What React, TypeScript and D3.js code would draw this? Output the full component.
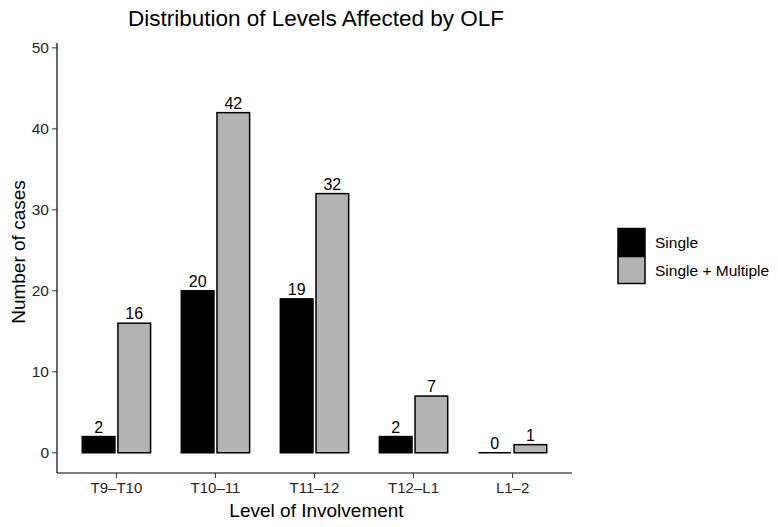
import React from 'react';
import * as d3 from 'd3';

const levels = ['T9–T10', 'T10–11', 'T11–12', 'T12–L1', 'L1–2'];
const seriesNames = ['Single', 'Single + Multiple'];
const singleCounts = [2, 20, 19, 2, 0];
const multipleCounts = [16, 42, 32, 7, 1];
const yTicks = [0, 10, 20, 30, 40, 50];
const fills = ['#000000', '#b3b3b3'];

const W = 778, H = 527;
const font = 'Liberation Sans, Arial, sans-serif';

export default function App() {
  // panel box
  const left = 57, right = 572, top = 43, bottom = 473;

  // ggplot-like discrete expansion: 0.6 units each side
  const x = d3.scalePoint<string>().domain(levels).range([left, right]).padding(0.6);
  const step = x.step();
  const groupW = step * 0.72;
  const xSeries = d3.scaleBand<string>().domain(seriesNames).range([-groupW / 2, groupW / 2]);
  const y = d3.scaleLinear().domain([-2.5, 50.6]).range([bottom, top]);

  const series = [singleCounts, multipleCounts];

  return (
    <svg width={W} height={H} style={{ position: 'absolute', left: 0, top: 0, background: '#fff' }} fontFamily={font}>
      <text x={316} y={26} textAnchor="middle" fontSize={22.5} fill="#000">Distribution of Levels Affected by OLF</text>

      {/* bars */}
      {levels.map((lv, i) => (
        <g key={lv}>
          {series.map((vals, s) => {
            const bx = (x(lv) as number) + (xSeries(seriesNames[s]) as number) + 1.5;
            const bw = xSeries.bandwidth() - 3;
            const v = vals[i];
            return (
              <g key={s}>
                {v === 0 ? (
                  <line x1={bx} x2={bx + bw} y1={y(0)} y2={y(0)} stroke="#000" strokeWidth={1.5} />
                ) : (
                  <rect x={bx} y={y(v)} width={bw} height={y(0) - y(v)} fill={fills[s]} stroke="#000" strokeWidth={1.5} />
                )}
                <text x={bx + bw / 2} y={y(v) - 4} textAnchor="middle" fontSize={16} fill="#000">{v}</text>
              </g>
            );
          })}
        </g>
      ))}

      {/* y axis */}
      <line x1={left} x2={left} y1={top} y2={bottom} stroke="#000" strokeWidth={1.2} />
      {yTicks.map(t => (
        <g key={t}>
          <line x1={left - 5} x2={left} y1={y(t)} y2={y(t)} stroke="#333" strokeWidth={1} />
          <text x={left - 8} y={y(t)} dy="0.36em" textAnchor="end" fontSize={15.5} fill="#262626">{t}</text>
        </g>
      ))}
      <text transform={`translate(25,252) rotate(-90)`} textAnchor="middle" fontSize={19} fill="#000">Number of cases</text>

      {/* x axis */}
      <line x1={left} x2={right} y1={bottom} y2={bottom} stroke="#000" strokeWidth={1.2} />
      {levels.map(lv => (
        <g key={lv}>
          <line x1={x(lv)} x2={x(lv)} y1={bottom} y2={bottom + 5} stroke="#333" strokeWidth={1} />
          <text x={x(lv)} y={493} textAnchor="middle" fontSize={15} fill="#262626">{lv}</text>
        </g>
      ))}
      <text x={(left + right) / 2 + 2} y={517} textAnchor="middle" fontSize={19} fill="#000">Level of Involvement</text>

      {/* legend */}
      {seriesNames.map((name, s) => (
        <g key={name} transform={`translate(618,${228.5 + s * 28})`}>
          <rect x={0} y={0} width={27} height={27} fill={fills[s]} stroke="#000" strokeWidth={1.5} />
          <text x={37} y={19.5} fontSize={15.5} fill="#000">{name}</text>
        </g>
      ))}
    </svg>
  );
}
